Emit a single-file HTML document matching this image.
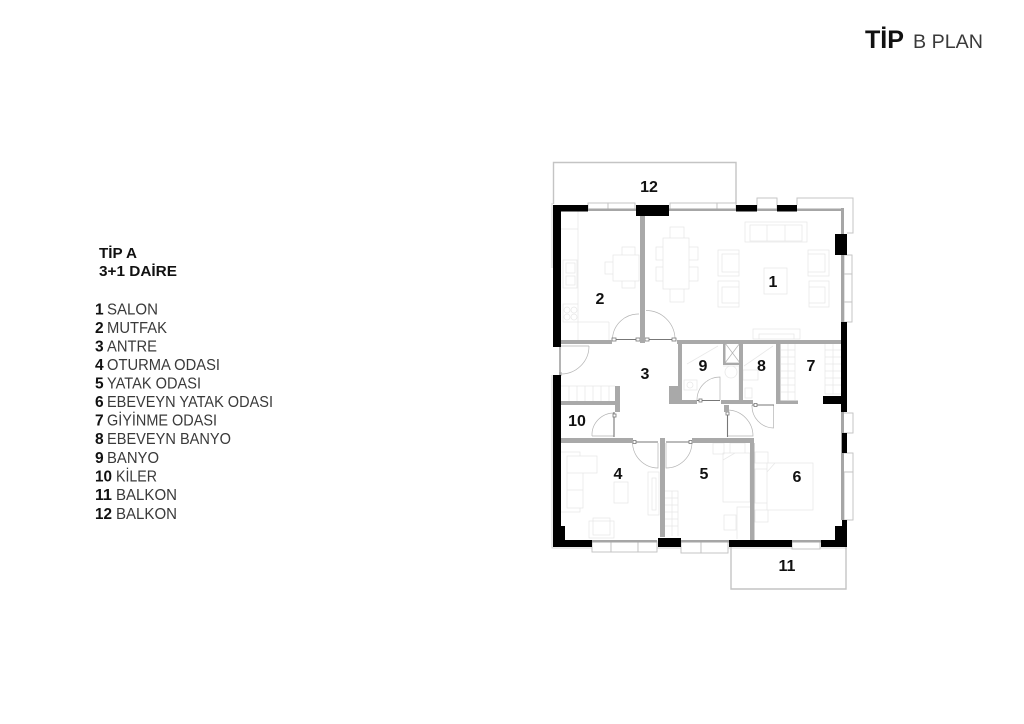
<!DOCTYPE html>
<html><head><meta charset="utf-8"><style>
html,body{margin:0;padding:0;background:#fff}
svg{display:block}
text{font-family:"Liberation Sans",sans-serif;fill:#111}
.b{font-weight:bold}
.l{fill:#3a3a3a}
.r{font-weight:bold;font-size:16px;text-anchor:middle}
.plan{filter:blur(.3px)}
</style></head><body>
<svg width="1024" height="724" viewBox="0 0 1024 724" xmlns="http://www.w3.org/2000/svg">
<rect width="1024" height="724" fill="#fff"/>
<text x="865" y="48" class="b" font-size="25" textLength="39" lengthAdjust="spacingAndGlyphs">TİP</text>
<text x="913" y="48" class="l" font-size="19.5" textLength="70" lengthAdjust="spacingAndGlyphs">B PLAN</text>

<text x="99" y="258" class="b" font-size="15" textLength="38" lengthAdjust="spacingAndGlyphs">TİP A</text>
<text x="99" y="276" class="b" font-size="15" textLength="78" lengthAdjust="spacingAndGlyphs">3+1 DAİRE</text>
<g font-size="15.5">
<text x="95" y="314.5"><tspan class="b">1</tspan></text><text x="107" y="314.5" class="l" textLength="51" lengthAdjust="spacingAndGlyphs">SALON</text>
<text x="95" y="333"><tspan class="b">2</tspan></text><text x="107" y="333" class="l" textLength="60" lengthAdjust="spacingAndGlyphs">MUTFAK</text>
<text x="95" y="351.5"><tspan class="b">3</tspan></text><text x="107" y="351.5" class="l" textLength="50" lengthAdjust="spacingAndGlyphs">ANTRE</text>
<text x="95" y="370"><tspan class="b">4</tspan></text><text x="107" y="370" class="l" textLength="113" lengthAdjust="spacingAndGlyphs">OTURMA ODASI</text>
<text x="95" y="388.5"><tspan class="b">5</tspan></text><text x="107" y="388.5" class="l" textLength="94" lengthAdjust="spacingAndGlyphs">YATAK ODASI</text>
<text x="95" y="407"><tspan class="b">6</tspan></text><text x="107" y="407" class="l" textLength="166" lengthAdjust="spacingAndGlyphs">EBEVEYN YATAK ODASI</text>
<text x="95" y="425.5"><tspan class="b">7</tspan></text><text x="107" y="425.5" class="l" textLength="110" lengthAdjust="spacingAndGlyphs">GİYİNME ODASI</text>
<text x="95" y="444"><tspan class="b">8</tspan></text><text x="107" y="444" class="l" textLength="124" lengthAdjust="spacingAndGlyphs">EBEVEYN BANYO</text>
<text x="95" y="463"><tspan class="b">9</tspan></text><text x="107" y="463" class="l" textLength="52" lengthAdjust="spacingAndGlyphs">BANYO</text>
<text x="95" y="481.5" class="b" textLength="17" lengthAdjust="spacingAndGlyphs">10</text><text x="116" y="481.5" class="l" textLength="41" lengthAdjust="spacingAndGlyphs">KİLER</text>
<text x="95" y="500" class="b" textLength="17" lengthAdjust="spacingAndGlyphs">11</text><text x="116" y="500" class="l" textLength="61" lengthAdjust="spacingAndGlyphs">BALKON</text>
<text x="95" y="519" class="b" textLength="17" lengthAdjust="spacingAndGlyphs">12</text><text x="116" y="519" class="l" textLength="61" lengthAdjust="spacingAndGlyphs">BALKON</text>
</g>

<g class="plan">
<!-- balconies and outlines -->
<g fill="none" stroke="#c4c4c4" stroke-width="1.4">
<path d="M553.5 204V162.5H736V204"/>
<path d="M731 547V589H846V547"/>
<path d="M797 205V198H853V233H847" stroke-width="1"/>
</g>
<path d="M552 268V203M552 375V548H847" fill="none" stroke="#cccccc" stroke-width=".8"/>

<!-- furniture -->
<g fill="none" stroke="#e8e8e8" stroke-width=".8">
<path d="M745 222H807V242H745ZM750 225H767V241H750ZM767 225H785V241H767ZM785 225H802V241H785Z"/>
<path d="M663 238H689V289H663ZM670 238V227H684V238M670 289V302H684V289M663 247H656V260H663M663 267H656V281H663M689 247H698V260H689M689 267H698V281H689"/>
<path d="M718 250H739V276H718ZM722 254H739V272H722ZM718 281H739V307H718ZM722 287H739V303H722Z"/>
<path d="M808 250H829V276H808ZM808 254H825V272H808ZM809 281H829V307H809ZM809 287H825V303H809Z"/>
<path d="M764 268H787V294H764ZM753 329H800V339H753ZM759 334H794V339H759Z"/>
<path d="M613 255H639V281H613ZM622 255V247H635V255M622 281V288H635V281M613 262H605V274H613"/>
<path d="M578 211V340M561 229H578M609 322V340M578 322H609M563 260H577V288H563ZM566 263H575V273H566ZM566 276H575V285H566ZM563 304H578V322H563ZM564 310a3 3 0 1 0 6 0a3 3 0 1 0-6 0M571 310a3 3 0 1 0 6 0a3 3 0 1 0-6 0M564 317a3 3 0 1 0 6 0a3 3 0 1 0-6 0M571 317a3 3 0 1 0 6 0a3 3 0 1 0-6 0"/>
<path d="M567 456H597V473H583V508H567ZM561 452H580V456M561 512H580V508M567 473H583M567 490H583M614 482H628V503H614ZM648 472H659V515H648ZM652 478H656V510H652ZM589 521H614V538H589ZM593 518H610V535H593Z"/>
<path d="M723 453H750V502H723ZM723 460L735 453M713 443H724V454H713ZM730 443H745V453H730ZM737 539V507H750M724 515H736V530H724Z"/>
<path d="M767 463H813V510H767ZM767 472L775 463M755 452H768V463H755ZM755 510H768V522H755ZM755 469H767V503H755Z"/>
<path d="M684 380H697V390H684ZM687 385a3 3 0 1 0 6 0a3 3 0 1 0-6 0M687 364L718 346M744 366L773 346M723 366H739V400M725 372a6 6 0 1 0 12 0a6 6 0 1 0-12 0M743 370H758V380H743ZM745 388H752V398H745Z"/>
<!-- tile grids -->
<path d="M781 350H795M781 357H795M781 364H795M781 371H795M781 378H795M781 385H795M781 392H795M788 343V400M795 343V400"/>
<path d="M825 343V394M833 343V394M825 350H841M825 357H841M825 364H841M825 371H841M825 378H841M825 385H841M825 394H841"/>
<path d="M561 386H615M569 386V401M577 386V401M585 386V401M593 386V401M601 386V401M609 386V401"/>
<path d="M665 491H678V536M672 491V536M665 498H678M665 505H678M665 512H678M665 519H678M665 526H678"/>
</g>

<!-- door arcs and leaves -->
<g fill="none" stroke="#b4b4b4" stroke-width=".7">
<path d="M612.5 338A26 26 0 0 1 639 314"/>
<path d="M646 310.5A29 29 0 0 1 675 338"/>
<path d="M589 346A28 28 0 0 1 560 374M560 346H589"/>
<path d="M592 436A22 22 0 0 1 614 413M592 436H614"/>
<path d="M632.5 443A26 26 0 0 0 658 468V443"/>
<path d="M692 443A26 26 0 0 1 666 468V443"/>
<path d="M697 400A23 23 0 0 1 720 377V400"/>
<path d="M752 405A22 22 0 0 0 773.5 428V405"/>
<path d="M728 410A26 26 0 0 1 753 436H728"/>
<path d="M725 343H740V363H725ZM725 343L740 363M740 343L725 363"/>
</g>
<g fill="none" stroke="#777" stroke-width="1.1">
<path d="M612 339.5H639M646 339.5H675M560 346V372M614 412V437M633 442H658M666 442H692M697 400.5H720M752 405H774M727.5 412V437"/>
</g>
<!-- door jamb ticks -->
<g fill="#fff" stroke="#777" stroke-width=".8">
<rect x="612" y="338" width="4" height="3"/><rect x="636" y="338" width="4" height="3"/><rect x="645" y="338" width="4" height="3"/><rect x="672" y="338" width="4" height="3"/>
<rect x="633" y="440.5" width="3" height="3"/><rect x="689" y="440.5" width="3" height="3"/><rect x="699" y="399" width="3" height="3"/><rect x="754" y="403.5" width="3" height="3"/>
<rect x="613" y="414" width="3" height="3"/><rect x="726" y="412" width="3" height="3"/>
</g>

<!-- windows -->
<g fill="#fff" stroke="#c0c0c0" stroke-width=".9">
<rect x="588" y="203" width="20" height="6"/><rect x="608" y="203" width="27" height="6"/>
<rect x="670" y="203" width="47" height="6"/><rect x="717" y="203" width="19" height="6"/>
<rect x="757" y="198" width="20" height="12"/>
<rect x="844" y="255" width="8" height="19"/><rect x="844" y="274" width="8" height="28"/><rect x="844" y="302" width="8" height="20"/>
<rect x="842" y="413" width="11" height="20"/><rect x="842" y="453" width="11" height="19"/><rect x="844" y="472" width="9" height="48"/>
<rect x="592" y="541" width="19" height="11"/><rect x="611" y="541" width="27" height="11"/><rect x="638" y="541" width="19" height="11"/>
<rect x="681" y="541" width="20" height="12"/><rect x="701" y="541" width="27" height="12"/>
<rect x="792" y="541" width="28" height="8"/>
</g>
<!-- grey window bands -->
<g fill="#a6a6a6">
<rect x="588" y="208.5" width="48" height="2.5"/><rect x="669" y="208.5" width="67" height="2.5"/><rect x="757" y="208.5" width="20" height="2.5"/><rect x="797" y="208.5" width="44" height="2.5"/>
<rect x="841" y="208" width="3" height="26"/><rect x="841" y="255" width="3" height="67"/>
<rect x="841" y="412" width="3" height="108"/>
<rect x="592" y="540" width="65" height="2.5"/><rect x="681" y="540" width="48" height="2.5"/><rect x="792" y="540" width="29" height="2.5"/>
<rect x="559" y="372" width="2.5" height="4"/>
</g>

<!-- grey interior walls -->
<g fill="#a9a9a9">
<rect x="640" y="216" width="5" height="127"/>
<rect x="561" y="340" width="51" height="4"/>
<rect x="677" y="340" width="164" height="4"/>
<rect x="678" y="343" width="4" height="61"/>
<rect x="669" y="386" width="13" height="18"/>
<rect x="669" y="400" width="28" height="4"/>
<rect x="721" y="400" width="32" height="4"/>
<rect x="739" y="343" width="4" height="58"/>
<rect x="776" y="343" width="4.5" height="61"/>
<rect x="780" y="400.5" width="18" height="3.5"/>
<rect x="723" y="343" width="2.5" height="22"/>
<rect x="725" y="363" width="15" height="2"/>
<rect x="615" y="386" width="5" height="26"/>
<rect x="561" y="401" width="55" height="4"/>
<rect x="561" y="438" width="72" height="5"/>
<rect x="660" y="438" width="5" height="99"/>
<rect x="692" y="438" width="62" height="5"/>
<rect x="750" y="443" width="4.5" height="97"/>
<rect x="724" y="405" width="5" height="7"/>
</g>

<!-- black walls -->
<g fill="#000">
<rect x="553" y="205" width="35" height="6.5"/>
<rect x="553" y="205" width="8" height="142"/>
<rect x="636" y="205" width="33" height="11"/>
<rect x="736" y="205" width="21" height="6.5"/>
<rect x="777" y="205" width="20" height="6.5"/>
<rect x="835" y="234" width="12" height="21"/>
<rect x="841" y="322" width="6" height="90"/>
<rect x="823" y="396" width="19" height="8"/>
<rect x="842" y="433" width="5" height="20"/>
<rect x="842" y="520" width="5" height="27"/>
<rect x="835" y="526" width="12" height="21"/>
<rect x="821" y="540" width="26" height="7"/>
<rect x="729" y="540" width="63" height="7"/>
<rect x="658" y="538" width="23" height="9"/>
<rect x="553" y="540" width="39" height="7"/>
<rect x="553" y="526" width="12" height="21"/>
<rect x="553" y="375" width="8" height="172"/>
</g>
</g>

<!-- room numbers -->
<g>
<text class="r" x="649" y="192">12</text>
<text class="r" x="773" y="287">1</text>
<text class="r" x="600" y="304">2</text>
<text class="r" x="645" y="379">3</text>
<text class="r" x="703" y="371">9</text>
<text class="r" x="761.5" y="371">8</text>
<text class="r" x="811" y="371">7</text>
<text class="r" x="577" y="426">10</text>
<text class="r" x="618" y="479">4</text>
<text class="r" x="704" y="479">5</text>
<text class="r" x="797" y="482">6</text>
<text class="r" x="787" y="571">11</text>
</g>
</svg>
</body></html>
